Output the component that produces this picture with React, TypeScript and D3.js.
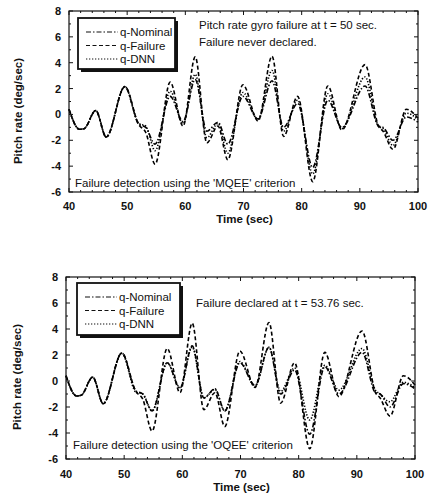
import React from "react";
import * as d3 from "d3";

// time samples (sec) shared by every trace
const timeS = [40, 41.8, 42.6, 44.6, 46.4, 49.6, 52.0, 53.2, 54.8, 57.4, 59.6, 61.7, 63.7, 65.6, 67.3, 69.9, 72.5, 74.9, 76.9, 79.3, 81.9, 84.5, 86.9, 90.9, 93.2, 94.0, 95.7, 98.0, 100];

// pitch rate (deg/sec)
const qNominal = [0.4, -1.15, -1.1, 0.3, -1.75, 2.15, -0.75, -1.0, -2.3, 1.4, -0.55, 2.7, -1.3, -0.6, -2.3, 1.4, -0.35, 2.6, -1.0, 0.85, -4.1, 1.1, -1.0, 2.2, -0.9, -1.0, -2.0, -0.2, -0.6];
const qFailure = [0.4, -1.15, -1.1, 0.3, -1.75, 2.15, -0.8, -1.4, -3.85, 2.5, -0.9, 4.45, -2.2, -0.9, -3.5, 2.3, -0.5, 4.5, -1.7, 1.4, -5.2, 2.2, -1.2, 3.85, -0.9, -1.3, -2.7, 0.4, -0.3];
const qDnnMqee = [0.4, -1.15, -1.1, 0.3, -1.75, 2.15, -0.7, -0.9, -2.8, 1.8, -0.7, 3.1, -1.8, -0.7, -3.0, 1.7, -0.4, 3.4, -1.3, 1.1, -4.6, 1.6, -1.1, 2.9, -0.9, -1.1, -2.4, 0.1, -0.4];
const qDnnOqee = [0.4, -1.15, -1.1, 0.3, -1.75, 2.15, -0.85, -1.0, -2.3, 1.4, -0.5, 2.6, -1.3, -0.65, -2.3, 1.5, -0.4, 2.6, -0.8, 1.0, -3.0, 1.2, -0.7, 2.5, -0.7, -1.0, -1.6, -0.1, -0.5];

const xTicks = [40, 50, 60, 70, 80, 90, 100];
const yTicks = [-6, -4, -2, 0, 2, 4, 6, 8];
const legendNames = ["q-Nominal", "q-Failure", "q-DNN"];
const dashes = ["5,2,1.5,2", "4,2.5", "1.3,1.7"];

const FONT = "'Liberation Sans', Arial, sans-serif";

function Panel(props) {
  const { box, dnn, note, criterion, legend } = props;
  const x = d3.scaleLinear().domain([40, 100]).range([box.l, box.r]);
  const y = d3.scaleLinear().domain([-6, 8]).range([box.b, box.t]);
  const line = d3
    .line()
    .x((d) => x(d[0]))
    .y((d) => y(d[1]))
    .curve(d3.curveMonotoneX);

  const series = [qNominal, qFailure, dnn];
  const minorY = d3.range(-6, 8.01, 1);
  const minorX = d3.range(40, 100.01, 2);

  return (
    <g>
      {/* traces */}
      {series.map((vals, i) => (
        <path
          key={i}
          d={line(timeS.map((t, j) => [t, vals[j]]))}
          fill="none"
          stroke="#000"
          strokeWidth={1.6}
          strokeDasharray={dashes[i]}
        />
      ))}

      {/* frame */}
      <rect x={box.l} y={box.t} width={box.r - box.l} height={box.b - box.t} fill="none" stroke="#111" strokeWidth={1.2} />

      {/* ticks, inward on all sides */}
      {minorY.map((v) => {
        const len = v % 2 === 0 ? 4 : 2;
        return (
          <g key={"y" + v} stroke="#111" strokeWidth={1}>
            <line x1={box.l} x2={box.l + len} y1={y(v)} y2={y(v)} />
            <line x1={box.r} x2={box.r - len} y1={y(v)} y2={y(v)} />
          </g>
        );
      })}
      {minorX.map((t) => {
        const len = t % 10 === 0 ? 4 : 2;
        return (
          <g key={"x" + t} stroke="#111" strokeWidth={1}>
            <line x1={x(t)} x2={x(t)} y1={box.b} y2={box.b - len} />
            <line x1={x(t)} x2={x(t)} y1={box.t} y2={box.t + len} />
          </g>
        );
      })}

      {/* tick labels */}
      {yTicks.map((v) => (
        <text key={"yl" + v} x={box.l - 8} y={y(v) + 4} textAnchor="end" fontSize={11} fontWeight="bold" fontFamily={FONT} fill="#111">
          {v}
        </text>
      ))}
      {xTicks.map((t) => (
        <text key={"xl" + t} x={x(t)} y={box.b + box.labDy} textAnchor="middle" fontSize={11} fontWeight="bold" fontFamily={FONT} fill="#111">
          {t}
        </text>
      ))}
      <text x={(box.l + box.r) / 2 + 1} y={box.b + box.labDy + 13} textAnchor="middle" fontSize={11.5} fontWeight="bold" fontFamily={FONT} fill="#111">
        Time (sec)
      </text>
      <text
        transform={`translate(${box.ylx},${box.yly}) rotate(-90)`}
        textAnchor="middle"
        fontSize={11.5}
        fontWeight="bold"
        fontFamily={FONT}
        fill="#111"
      >
        Pitch rate (deg/sec)
      </text>

      {/* annotations */}
      {note.map((s, i) => (
        <text key={"n" + i} x={box.noteX} y={box.noteY + i * 17} fontSize={11.5} fontFamily={FONT} fill="#111">
          {s}
        </text>
      ))}
      <text x={box.critX} y={box.critY} fontSize={11.5} fontFamily={FONT} fill="#111">
        {criterion}
      </text>

      {/* legend */}
      <rect x={legend.x + 3} y={legend.y + 3} width={legend.w} height={legend.h} fill="#111" />
      <rect x={legend.x} y={legend.y} width={legend.w} height={legend.h} fill="#fff" stroke="#111" strokeWidth={1.8} />
      {legendNames.map((n, i) => (
        <g key={n}>
          <line
            x1={legend.x + 8}
            x2={legend.x + 40}
            y1={legend.y + 14 + i * 13.5}
            y2={legend.y + 14 + i * 13.5}
            stroke="#111"
            strokeWidth={1.2}
            strokeDasharray={dashes[i]}
          />
          <text x={legend.x + 42} y={legend.y + 18 + i * 13.5} fontSize={11.5} fontFamily={FONT} fill="#111">
            {n}
          </text>
        </g>
      ))}
    </g>
  );
}

export default function App() {
  const topBox = { l: 69, r: 418, t: 11, b: 192, labDy: 18, ylx: 22, yly: 111, noteX: 199, noteY: 29, critX: 75, critY: 187 };
  const botBox = { l: 66, r: 415, t: 277, b: 459, labDy: 19, ylx: 21, yly: 377, noteX: 196, noteY: 307, critX: 73, critY: 449 };
  return (
    <svg width={431} height={496} style={{ position: "absolute", left: 0, top: 0, background: "#fff" }}>
      <Panel
        box={topBox}
        dnn={qDnnMqee}
        note={["Pitch rate gyro failure at t = 50 sec.", "Failure never declared."]}
        criterion="Failure detection using the 'MQEE' criterion"
        legend={{ x: 78, y: 18, w: 97, h: 51 }}
      />
      <Panel
        box={botBox}
        dnn={qDnnOqee}
        note={["Failure declared at t = 53.76 sec."]}
        criterion="Failure detection using the 'OQEE' criterion"
        legend={{ x: 77, y: 283, w: 103, h: 52 }}
      />
    </svg>
  );
}
